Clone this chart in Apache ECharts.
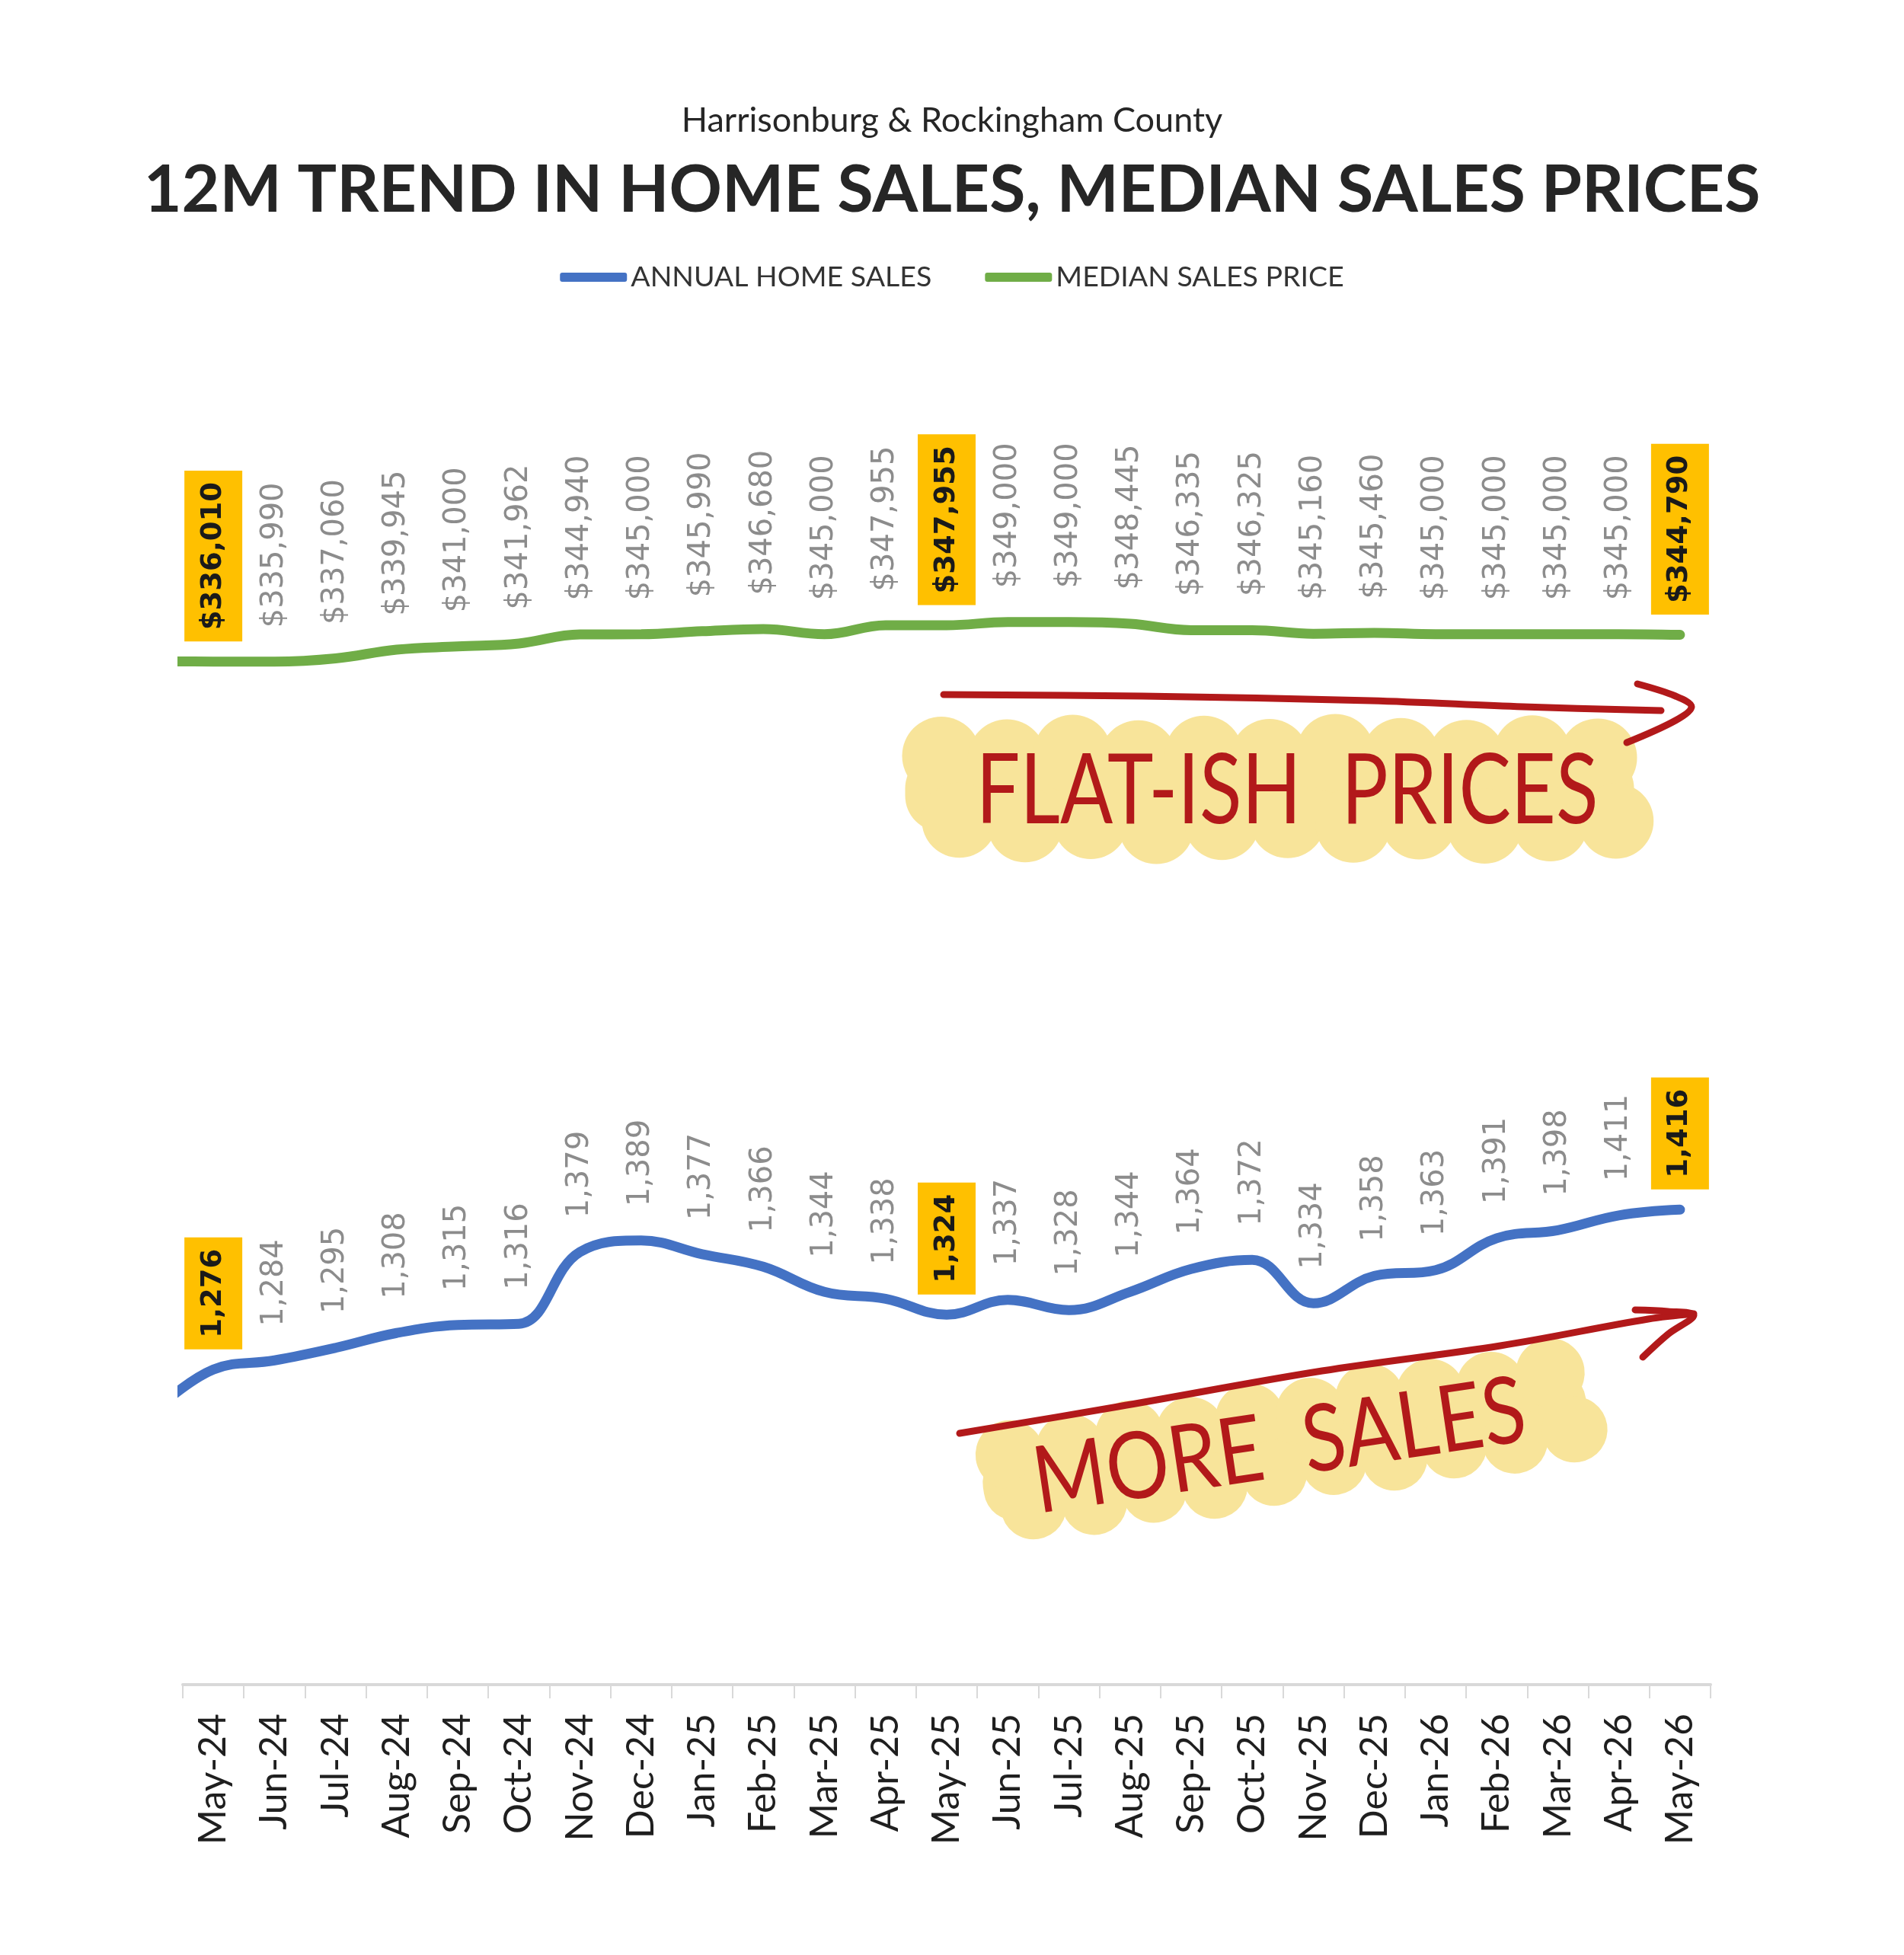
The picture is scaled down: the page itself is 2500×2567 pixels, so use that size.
<!DOCTYPE html>
<html>
<head>
<meta charset="utf-8">
<script src="https://cdn.jsdelivr.net/npm/echarts@6/dist/echarts.min.js"></script>
<style>
  html, body { margin: 0; padding: 0; background: #fff; }
  #chart { width: 2500px; height: 2567px; }
</style>
</head>
<body>
<div id="chart"></div>
<script>
// categories on the x axis
const months = ['May-24', 'Jun-24', 'Jul-24', 'Aug-24', 'Sep-24', 'Oct-24', 'Nov-24', 'Dec-24',
  'Jan-25', 'Feb-25', 'Mar-25', 'Apr-25', 'May-25', 'Jun-25', 'Jul-25', 'Aug-25', 'Sep-25',
  'Oct-25', 'Nov-25', 'Dec-25', 'Jan-26', 'Feb-26', 'Mar-26', 'Apr-26', 'May-26'];

// annual home sales (rolling 12 months)
const salesValues = [1276, 1284, 1295, 1308, 1315, 1316, 1379, 1389, 1377, 1366, 1344, 1338,
  1324, 1337, 1328, 1344, 1364, 1372, 1334, 1358, 1363, 1391, 1398, 1411, 1416];

// median sales price
const priceValues = [336010, 335990, 337060, 339945, 341000, 341962, 344940, 345000, 345990,
  346680, 345000, 347955, 347955, 349000, 349000, 348445, 346335, 346325, 345160, 345460,
  345000, 345000, 345000, 345000, 344790];

// month before the first category (only its stub shows at the left edge)
const salesBefore = 1238;
const priceBefore = 336100;

// months whose labels get the gold box
const highlightIdx = [0, 12, 24];

const BLUE = '#4472C4';
const GREEN = '#70AD47';
const RED = '#B2191A';
const YELLOW = '#F8E49A';

const chart = echarts.init(document.getElementById('chart'));

function buildData(before, values) {
  const out = [{ value: [-1, before], label: { show: false } }];
  values.forEach((v, i) => {
    const item = { value: [i, v] };
    if (highlightIdx.includes(i)) {
      item.label = {
        distance: 26,
        color: '#1a1a1a',
        fontWeight: 'bold',
        fontSize: 37,
        lineHeight: 44,
        backgroundColor: '#FFC000',
        padding: [16, 15]
      };
    }
    out.push(item);
  });
  return out;
}

function labelBase(fmt) {
  return {
    show: true,
    position: 'top',
    rotate: 90,
    align: 'left',
    verticalAlign: 'middle',
    distance: 44,
    fontFamily: 'DejaVu Sans',
    fontSize: 40,
    color: '#8c8c8c',
    formatter: p => fmt(p.value[1])
  };
}

// scalloped highlighter blob
function blob(cx, cy, w, h, rot) {
  const r = h / 4;
  const kids = [{
    type: 'rect',
    shape: { x: -w / 2, y: -h / 2 + r * 0.9, width: w, height: h - r * 1.8, r: r },
    style: { fill: YELLOW }
  }];
  const n = Math.round((w - 2 * r) / (r * 1.9));
  const wob = [0, 6, -4, 8, -2, 5, -6, 3, 7, -3, 4, -5];
  for (let i = 0; i <= n; i++) {
    const x = -w / 2 + r + i * (w - 2 * r) / n;
    kids.push({ type: 'circle', shape: { cx: x, cy: -h / 2 + r + wob[i % wob.length] * 0.6, r: r + 4 }, style: { fill: YELLOW } });
    kids.push({ type: 'circle', shape: { cx: x + r * 0.5, cy: h / 2 - r - 6 - wob[(i + 3) % wob.length] * 0.6, r: r + 2 }, style: { fill: YELLOW } });
  }
  return { type: 'group', x: cx, y: cy, rotation: rot || 0, children: kids, z: 1 };
}

function stroke(points) {
  return {
    type: 'polyline',
    shape: { points: points, smooth: 0.35 },
    style: { stroke: RED, lineWidth: 9, lineCap: 'round', lineJoin: 'round', fill: null },
    z: 3
  };
}

const option = {
  backgroundColor: '#ffffff',
  animation: false,
  title: [
    {
      text: 'Harrisonburg & Rockingham County',
      left: 'center',
      top: 128,
      textStyle: { fontFamily: 'Lato', fontSize: 45, fontWeight: 'normal', color: '#262626', lineHeight: 50 }
    },
    {
      text: '12M TREND IN HOME SALES, MEDIAN SALES PRICES',
      left: 'center',
      top: 190,
      textStyle: { fontFamily: 'Lato', fontSize: 86, fontWeight: 'bold', color: '#262626', lineHeight: 110 }
    }
  ],
  legend: {
    data: ['ANNUAL HOME SALES', 'MEDIAN SALES PRICE'],
    top: 340,
    left: 'center',
    icon: 'roundRect',
    itemWidth: 88,
    itemHeight: 12,
    itemGap: 70,
    textStyle: { fontFamily: 'Lato', fontSize: 37.5, color: '#333333' }
  },
  grid: { left: 240, right: 254, top: 413, bottom: 355, containLabel: false },
  xAxis: [
    {
      type: 'category',
      data: months,
      boundaryGap: true,
      axisLine: { lineStyle: { color: '#d9d9d9', width: 4 } },
      axisTick: { show: true, length: 18, lineStyle: { color: '#d9d9d9', width: 2 } },
      axisLabel: { interval: 0, rotate: 90, margin: 38, fontFamily: 'Lato', fontSize: 50, color: '#1f1f1f' },
      splitLine: { show: false }
    },
    { type: 'value', min: -0.5, max: 24.5, show: false }
  ],
  yAxis: [
    { type: 'value', min: 1000, max: 2200, show: false, splitLine: { show: false } },
    { type: 'value', min: 0, max: 450000, show: false, splitLine: { show: false } }
  ],
  series: [
    {
      name: 'ANNUAL HOME SALES',
      type: 'line',
      xAxisIndex: 1,
      yAxisIndex: 0,
      data: buildData(salesBefore, salesValues),
      smooth: 0.4,
      symbol: 'circle',
      symbolSize: 1,
      clip: true,
      itemStyle: { color: BLUE },
      lineStyle: { color: BLUE, width: 13, cap: 'round' },
      label: labelBase(v => v.toLocaleString('en-US')),
      z: 2
    },
    {
      name: 'MEDIAN SALES PRICE',
      type: 'line',
      xAxisIndex: 1,
      yAxisIndex: 1,
      data: buildData(priceBefore, priceValues),
      smooth: 0.4,
      symbol: 'circle',
      symbolSize: 1,
      clip: true,
      itemStyle: { color: GREEN },
      lineStyle: { color: GREEN, width: 13, cap: 'round' },
      label: labelBase(v => '$' + v.toLocaleString('en-US')),
      z: 2
    }
  ],
  graphic: [
    // flat-ish prices note
    blob(1667, 1040, 957, 190, 0),
    stroke([[1239, 912], [1500, 914], [1800, 920], [2000, 928], [2181, 933]]),
    stroke([[2150, 898], [2200, 914], [2221, 928], [2200, 946], [2136, 975]]),
    {
      type: 'text', x: 1690, y: 1040, scaleX: 0.8, z: 4,
      style: { text: 'FLAT-ISH  PRICES', fill: RED, font: '128px Lato', align: 'center', verticalAlign: 'middle' }
    },
    // more sales note
    blob(1687, 1898, 800, 165, 0.148),
    stroke([[1260, 1882], [1468, 1847], [1736, 1800], [1970, 1767], [2164, 1732], [2224, 1725]]),
    stroke([[2147, 1720], [2190, 1722], [2224, 1727], [2190, 1752], [2157, 1782]]),
    {
      type: 'text', x: 1680, y: 1900, scaleX: 0.85, rotation: 0.148, z: 4,
      style: { text: 'MORE  SALES', fill: RED, font: '122px Lato', align: 'center', verticalAlign: 'middle' }
    }
  ]
};

chart.setOption(option);
window.addEventListener('resize', () => chart.resize());
</script>
</body>
</html>
